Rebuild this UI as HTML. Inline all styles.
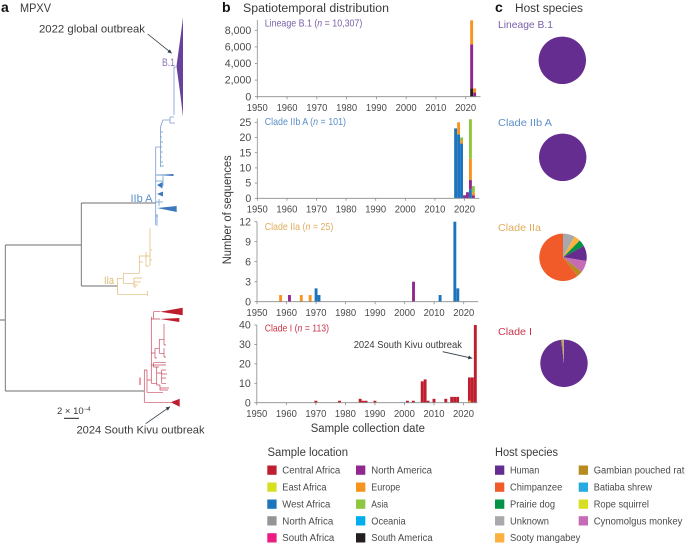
<!DOCTYPE html>
<html>
<head>
<meta charset="utf-8">
<title>MPXV phylogeny, spatiotemporal distribution and host species</title>
<style>
html,body{margin:0;padding:0;background:#fff;}
svg{display:block;}
text{font-family:"Liberation Sans",sans-serif;font-size:10.5px;fill:#3a3a3c;}
.bold{font-weight:bold;font-size:14px;fill:#111;}
.head{font-size:11.5px;}
.tick{font-size:10px;fill:#4a4a4c;}
.ytick{font-size:10.6px;fill:#4a4a4c;}
.leg{font-size:10px;fill:#4a4a4c;}
</style>
</head>
<body>
<svg id="fig" width="685" height="543" viewBox="0 0 685 543" xmlns="http://www.w3.org/2000/svg">
<defs>
<marker id="ah" markerWidth="6" markerHeight="6" refX="5" refY="2.5" orient="auto"><path d="M0 0L5 2.5L0 5z" fill="#2d3a45"/></marker>
</defs>

<!-- panel headers -->
<text class="bold" x="1" y="12">a</text>
<text class="head" x="20" y="12" textLength="31" lengthAdjust="spacingAndGlyphs">MPXV</text>
<text class="bold" x="222" y="12">b</text>
<text class="head" x="243" y="12" textLength="146" lengthAdjust="spacingAndGlyphs">Spatiotemporal distribution</text>
<text class="bold" x="495" y="12">c</text>
<text class="head" x="515" y="12" textLength="68" lengthAdjust="spacingAndGlyphs">Host species</text>

<!-- phylogenetic tree -->
<g fill="none">
  <path stroke="#6d6e71" stroke-width="0.9" d="M0 320H5.3M5.3 245V391M5.3 245H81.3M81.3 203V286M81.3 203H156M81.3 286H117.5M5.3 391H144.3"/>
  <path stroke="#7c9bd2" stroke-width="0.8" d="M155.7 147V225M155.7 147H160.5M160.5 167V127L163 120H170M170 117V123H175M170 117H174M174 115V67H176"/>
  <path stroke="#5f97d0" stroke-width="0.7" d="M160.5 132H163M160.5 137H162M160.5 142H163M160.5 147H162M160.5 152H163M160.5 157H162M160.5 162H163M160.5 166H164M155.7 175H173M155.7 181H163M163 176V186M155.7 202H163M159 199V206M155.7 216H158M157 214V226"/>
  <g fill="#3f78bd">
    <path d="M156 175L173.5 174V176Z"/>
    <path d="M157 185L162.5 182V188.5Z"/>
    <path d="M157 194L163 191.5V196.5Z"/>
    <path d="M157 208L176.7 206V212Z"/>
  </g>
  <path fill="#67419c" d="M176.5 66.5C178 55 181 35 183 17V117C181 97 178 78 176.5 66.5Z"/>
  <path stroke="#e0b873" stroke-width="0.7" d="M117.5 278.3V294.3M117.5 294.3H147.3M147.3 290.7V296M117.5 278.3H123.3M123.3 273.3V283.3M123.3 273.3H139.3M123.3 283.3H134M134 278V287M134 278H142M134 282H141M134 285H138M134 287H136M139.3 273.3V256H146M139.3 262H143M146 256V266H149M146 252V256H150M150 266V228.3M150 250H152M150 260H152"/>
  <path stroke="#c84a5c" stroke-width="0.7" d="M144.3 370V402.3M144.3 402.3H171M144.3 370H147M147 370V392.3M147 392.3H163M147 380H151.3M151.3 316.7V383.3M151.3 319H153.5M153.5 311.7V319M153.5 311.7H160M153.5 319H160M151.3 353H155M155 348.3V358M155 348.3H159.3M159.3 339.3V353.3M159.3 339.3H164M164 324V345M159.3 353.3H164M164 348V357M164 345H166M164 357H166M155 358H157M151.3 365H153.5M153.5 362.7V367M153.5 362.7H166M153.5 365H166M153.5 367H159M151.3 383.3H156.7M156.7 366.7V385M156.7 373H161.7M161.7 370V383.3M161.7 370H166M161.7 374H167M161.7 378H166M161.7 383.3H166M156.7 385H160M160 385V390H168M160 388H169"/>
  <g fill="#bd1e2d">
    <path d="M160 311.7L182.7 307.7V315.3Z"/>
    <path d="M160 319L179.3 318V322Z"/>
    <path d="M170.7 402.3L179.7 398.7V406.7Z"/>
  </g>
</g>
<text x="162" y="66" textLength="13" lengthAdjust="spacingAndGlyphs" style="fill:#8a76b8;font-size:11px">B.1</text>
<text x="130.5" y="202" textLength="22" lengthAdjust="spacingAndGlyphs" style="fill:#5b8fc7;font-size:11px">IIb A</text>
<text x="104" y="284" textLength="10" lengthAdjust="spacingAndGlyphs" style="fill:#dcb56e;font-size:11px">IIa</text>
<text x="138.5" y="385" style="fill:#c9485a;font-size:11px">I</text>
<text x="39" y="32.5" textLength="106" lengthAdjust="spacingAndGlyphs" style="font-size:11.2px">2022 global outbreak</text>
<line x1="147.7" y1="34" x2="171.7" y2="53.3" stroke="#2d3a45" stroke-width="0.8" marker-end="url(#ah)"/>
<text x="76.5" y="433.5" textLength="128" lengthAdjust="spacingAndGlyphs" style="font-size:11.2px">2024 South Kivu outbreak</text>
<line x1="145.7" y1="423.7" x2="170" y2="406.7" stroke="#2d3a45" stroke-width="0.8" marker-end="url(#ah)"/>
<text x="57" y="414" style="font-size:9.5px">2 × 10<tspan dy="-3" style="font-size:6px">−4</tspan></text>
<line x1="64" y1="418.3" x2="79" y2="418.3" stroke="#222" stroke-width="1"/>

<!-- bar panels -->
<g id="bars"></g>
<text x="264.7" y="26.7" textLength="97.6" lengthAdjust="spacingAndGlyphs" style="fill:#7a5fa8">Lineage B.1 (<tspan font-style="italic">n</tspan> = 10,307)</text>
<text x="264.7" y="125" textLength="81.3" lengthAdjust="spacingAndGlyphs" style="fill:#5b8fc7">Clade IIb A (<tspan font-style="italic">n</tspan> = 101)</text>
<text x="264.7" y="230" textLength="68.6" lengthAdjust="spacingAndGlyphs" style="fill:#e0ad5c">Clade IIa (<tspan font-style="italic">n</tspan> = 25)</text>
<text x="264.7" y="331.7" textLength="64.3" lengthAdjust="spacingAndGlyphs" style="fill:#c9364a">Clade I (<tspan font-style="italic">n</tspan> = 113)</text>
<text x="353.7" y="348" textLength="108.3" lengthAdjust="spacingAndGlyphs">2024 South Kivu outbreak</text>
<line x1="442.7" y1="351.7" x2="472.3" y2="358.3" stroke="#2d3a45" stroke-width="0.8" marker-end="url(#ah)"/>
<text transform="translate(231,264.3) rotate(-90)" x="0" y="0" textLength="109" lengthAdjust="spacingAndGlyphs" class="head">Number of sequences</text>
<text x="310.7" y="432" textLength="114.3" lengthAdjust="spacingAndGlyphs" class="head">Sample collection date</text>

<!-- pies -->
<g id="pies"></g>
<text x="498" y="28" textLength="55" lengthAdjust="spacingAndGlyphs" style="fill:#7a5fa8">Lineage B.1</text>
<text x="498" y="126" textLength="54" lengthAdjust="spacingAndGlyphs" style="fill:#5b8fc7">Clade IIb A</text>
<text x="498" y="231" textLength="43" lengthAdjust="spacingAndGlyphs" style="fill:#e0ad5c">Clade IIa</text>
<text x="498" y="335" textLength="34" lengthAdjust="spacingAndGlyphs" style="fill:#c9364a">Clade I</text>

<!-- legend: sample location -->
<g>
<text class="head" x="267.5" y="456" textLength="80.5" lengthAdjust="spacingAndGlyphs">Sample location</text>
<g><rect x="267.3" y="465.5" width="9.3" height="9.3" fill="#be1e2d"/><text class="leg" x="282.3" y="473.5" textLength="58" lengthAdjust="spacingAndGlyphs">Central Africa</text></g>
<g><rect x="267.3" y="482.5" width="9.3" height="9.3" fill="#d7df23"/><text class="leg" x="282.3" y="490.5" textLength="44.3" lengthAdjust="spacingAndGlyphs">East Africa</text></g>
<g><rect x="267.3" y="499.5" width="9.3" height="9.3" fill="#1c75bc"/><text class="leg" x="282.3" y="507.5" textLength="48" lengthAdjust="spacingAndGlyphs">West Africa</text></g>
<g><rect x="267.3" y="516.2" width="9.3" height="9.3" fill="#939598"/><text class="leg" x="282.3" y="524.3" textLength="51" lengthAdjust="spacingAndGlyphs">North Africa</text></g>
<g><rect x="267.3" y="533.2" width="9.3" height="9.3" fill="#ec1c80"/><text class="leg" x="282.3" y="541.2" textLength="52" lengthAdjust="spacingAndGlyphs">South Africa</text></g>
<g><rect x="356" y="465.5" width="9.3" height="9.3" fill="#92278f"/><text class="leg" x="371.3" y="473.5" textLength="60.7" lengthAdjust="spacingAndGlyphs">North America</text></g>
<g><rect x="356" y="482.5" width="9.3" height="9.3" fill="#f7941d"/><text class="leg" x="371.3" y="490.5" textLength="29" lengthAdjust="spacingAndGlyphs">Europe</text></g>
<g><rect x="356" y="499.5" width="9.3" height="9.3" fill="#8dc63f"/><text class="leg" x="371.3" y="507.5" textLength="16.7" lengthAdjust="spacingAndGlyphs">Asia</text></g>
<g><rect x="356" y="516.2" width="9.3" height="9.3" fill="#00aeef"/><text class="leg" x="371.3" y="524.3" textLength="34.3" lengthAdjust="spacingAndGlyphs">Oceania</text></g>
<g><rect x="356" y="533.2" width="9.3" height="9.3" fill="#231f20"/><text class="leg" x="371.3" y="541.2" textLength="61.3" lengthAdjust="spacingAndGlyphs">South America</text></g>
</g>

<!-- legend: host species -->
<g>
<text class="head" x="495" y="456" textLength="63" lengthAdjust="spacingAndGlyphs">Host species</text>
<g><rect x="495" y="465.5" width="9.3" height="9.3" fill="#662d91"/><text class="leg" x="510" y="473.5" textLength="29.3" lengthAdjust="spacingAndGlyphs">Human</text></g>
<g><rect x="495" y="482.5" width="9.3" height="9.3" fill="#f15a29"/><text class="leg" x="510" y="490.5" textLength="52.3" lengthAdjust="spacingAndGlyphs">Chimpanzee</text></g>
<g><rect x="495" y="499.5" width="9.3" height="9.3" fill="#009444"/><text class="leg" x="510" y="507.5" textLength="45" lengthAdjust="spacingAndGlyphs">Prairie dog</text></g>
<g><rect x="495" y="516.2" width="9.3" height="9.3" fill="#a7a9ac"/><text class="leg" x="510" y="524.3" textLength="39" lengthAdjust="spacingAndGlyphs">Unknown</text></g>
<g><rect x="495" y="533.2" width="9.3" height="9.3" fill="#fbb040"/><text class="leg" x="510" y="541.2" textLength="70.3" lengthAdjust="spacingAndGlyphs">Sooty mangabey</text></g>
<g><rect x="578.7" y="465.5" width="9.3" height="9.3" fill="#b78b20"/><text class="leg" x="593.7" y="473.5" textLength="90.7" lengthAdjust="spacingAndGlyphs">Gambian pouched rat</text></g>
<g><rect x="578.7" y="482.5" width="9.3" height="9.3" fill="#27aae1"/><text class="leg" x="593.7" y="490.5" textLength="58.3" lengthAdjust="spacingAndGlyphs">Batiaba shrew</text></g>
<g><rect x="578.7" y="499.5" width="9.3" height="9.3" fill="#d7df23"/><text class="leg" x="593.7" y="507.5" textLength="55.3" lengthAdjust="spacingAndGlyphs">Rope squirrel</text></g>
<g><rect x="578.7" y="516.2" width="9.3" height="9.3" fill="#c66bb5"/><text class="leg" x="593.7" y="524.3" textLength="88.7" lengthAdjust="spacingAndGlyphs">Cynomolgus monkey</text></g>
</g>
</svg>

<script>
// ---- data ----
const xTickYears = [1950, 1960, 1970, 1980, 1990, 2000, 2010, 2020];

const b1Years = [2022, 2023];
const b1SouthAmerica = [1000, 0];
const b1NorthAmerica = [5300, 500];
const b1Europe = [2900, 500];
const b1Ticks = [0, 2000, 4000, 6000, 8000];

const iibYears = [2017, 2018, 2019, 2020, 2021, 2022, 2023];
const iibWestAfrica = [23, 21, 18, 0, 0, 3, 0];
const iibNorthAmerica = [0, 0, 0, 1, 2, 3, 1];
const iibEurope = [0, 4, 1, 0, 0, 7, 1];
const iibAsia = [0, 0, 1, 0, 0, 13, 2];
const iibTicks = [0, 5, 10, 15, 20, 25];

const iiaYears = [1958, 1961, 1965, 1968, 1970, 1971, 2003, 2012, 2017, 2018];
const iiaWestAfrica = [0, 0, 0, 0, 2, 1, 0, 1, 12, 2];
const iiaNorthAmerica = [0, 1, 0, 0, 0, 0, 3, 0, 0, 0];
const iiaEurope = [1, 0, 1, 1, 0, 0, 0, 0, 0, 0];
const iiaTicks = [0, 3, 6, 9, 12];

const iYears = [1970, 1978, 1985, 1986, 1987, 1990, 2001, 2003, 2006, 2007, 2008, 2010, 2014, 2016, 2017, 2018, 2022, 2023, 2024];
const iEurope = [0, 0, 0, 0, 0, 0, 0, 0, 0, 0, 0, 0, 0, 0, 0, 0, 1, 0, 0];
const iCentralAfrica = [1, 1, 2, 1, 1, 1, 1, 1, 11, 12, 1, 2, 2, 3, 3, 3, 12, 13, 40];
const iTicks = [0, 10, 20, 30, 40];

const hostB1Human = [100];
const hostIibHuman = [100];
// clockwise from 12 o'clock: unknown, sooty mangabey, prairie dog, human, cynomolgus, gambian rat, chimpanzee
const hostIiaShares = [8, 4.5, 4.5, 10.5, 8, 4, 60.5];
// clockwise from 12 o'clock: human, gambian rat, unknown
const hostIShares = [98, 1, 1];

// ---- drawing ----
const NS = 'http://www.w3.org/2000/svg';
const LOC = {west:'#1c75bc', northAm:'#92278f', europe:'#f7941d', asia:'#8dc63f', southAm:'#231f20', central:'#be1e2d'};
const HOST = {human:'#662d91', chimp:'#f15a29', prairie:'#009444', unknown:'#a7a9ac', sooty:'#fbb040', gambian:'#b78b20', cyno:'#c66bb5'};

function mk(tag, attrs, parent){
  const el = document.createElementNS(NS, tag);
  for (const k in attrs) el.setAttribute(k, attrs[k]);
  parent.appendChild(el);
  return el;
}

function drawPanel(name, p, years, series, yTicks){
  const root = document.getElementById('bars');
  const g = mk('g', {}, root);
  
  
  const xS = v => p.x1950 + (v - 1950) * p.perYear;
  const yS = v => p.y0 - v * p.perUnit;
  const barW = p.perYear * 0.98;

  years.forEach(function(yr, i){
    let acc = 0;
    series.forEach(function(s){
      const v = s.values[i];
      if (!v) return;
      const r = mk('rect', {x: xS(yr) - barW / 2, y: yS(acc + v), width: barW, height: yS(acc) - yS(acc + v), fill: s.color}, g);
      
      
      acc += v;
    });
  });

  const xAxis = mk('line', {x1: xS(1950), x2: p.xEnd, y1: p.y0, y2: p.y0, stroke: '#8a8c8e', 'stroke-width': 0.8}, g);
  
  
  const yAxis = mk('line', {x1: xS(1950), x2: xS(1950), y1: p.top, y2: p.y0, stroke: '#8a8c8e', 'stroke-width': 0.8}, g);
  
  

  xTickYears.forEach(function(yr){
    const t = mk('line', {x1: xS(yr), x2: xS(yr), y1: p.y0, y2: p.y0 + 2.5, stroke: '#8a8c8e', 'stroke-width': 0.8}, g);
    
    
    const l = mk('text', {x: xS(yr) - 10.5, y: p.y0 + 14.3, textLength: 21, lengthAdjust: 'spacingAndGlyphs', class: 'tick'}, g);
    l.textContent = String(yr);
    
    
  });
  yTicks.forEach(function(v){
    const t = mk('line', {x1: xS(1950) - 2.5, x2: xS(1950), y1: yS(v), y2: yS(v), stroke: '#8a8c8e', 'stroke-width': 0.8}, g);
    
    
    const l = mk('text', {x: xS(1950) - 6, y: yS(v) + 3.6, 'text-anchor': 'end', class: 'ytick'}, g);
    l.textContent = v.toLocaleString('en-US');
    
    
  });
}

drawPanel('chart-lineage-b1', {x1950:257.3, perYear:2.977, y0:96.7, perUnit:66.4/8000, top:20, xEnd:480.5}, b1Years,
  [{color:LOC.southAm, values:b1SouthAmerica},{color:LOC.northAm, values:b1NorthAmerica},{color:LOC.europe, values:b1Europe}], b1Ticks);
drawPanel('chart-clade-iib-a', {x1950:257.3, perYear:2.96, y0:198.3, perUnit:76/25, top:118.5, xEnd:479.3}, iibYears,
  [{color:LOC.west, values:iibWestAfrica},{color:LOC.northAm, values:iibNorthAmerica},{color:LOC.europe, values:iibEurope},{color:LOC.asia, values:iibAsia}], iibTicks);
drawPanel('chart-clade-iia', {x1950:257, perYear:2.953, y0:301.7, perUnit:80/12, top:221.7, xEnd:478.3}, iiaYears,
  [{color:LOC.west, values:iiaWestAfrica},{color:LOC.northAm, values:iiaNorthAmerica},{color:LOC.europe, values:iiaEurope}], iiaTicks);
drawPanel('chart-clade-i', {x1950:256.8, perYear:2.953, y0:402.7, perUnit:77.7/40, top:325, xEnd:477.5}, iYears,
  [{color:LOC.europe, values:iEurope},{color:LOC.central, values:iCentralAfrica}], iTicks);

function drawPie(name, cx, cy, r, values, colors){
  const root = document.getElementById('pies');
  const g = mk('g', {}, root);
  
  
  const total = values.reduce((a, b) => a + b, 0);
  let acc = 0;
  values.forEach(function(v, i){
    let el;
    if (v >= total) {
      el = mk('circle', {cx: cx, cy: cy, r: r, fill: colors[i]}, g);
    } else {
      const a0 = acc / total * 2 * Math.PI;
      const a1 = (acc + v) / total * 2 * Math.PI;
      const large = (a1 - a0) > Math.PI ? 1 : 0;
      const d = 'M' + cx + ' ' + cy +
        'L' + (cx + r * Math.sin(a0)) + ' ' + (cy - r * Math.cos(a0)) +
        'A' + r + ' ' + r + ' 0 ' + large + ' 1 ' + (cx + r * Math.sin(a1)) + ' ' + (cy - r * Math.cos(a1)) + 'Z';
      el = mk('path', {d: d, fill: colors[i]}, g);
    }
    
    
    acc += v;
  });
}
drawPie('pie-lineage-b1', 562.3, 60.3, 23.7, hostB1Human, [HOST.human]);
drawPie('pie-clade-iib-a', 562.7, 157.3, 23.7, hostIibHuman, [HOST.human]);
drawPie('pie-clade-iia', 563, 257.3, 23.7, hostIiaShares, [HOST.unknown, HOST.sooty, HOST.prairie, HOST.human, HOST.cyno, HOST.gambian, HOST.chimp]);
drawPie('pie-clade-i', 564, 363.3, 23.7, hostIShares, [HOST.human, HOST.gambian, HOST.unknown]);
</script>
</body>
</html>
